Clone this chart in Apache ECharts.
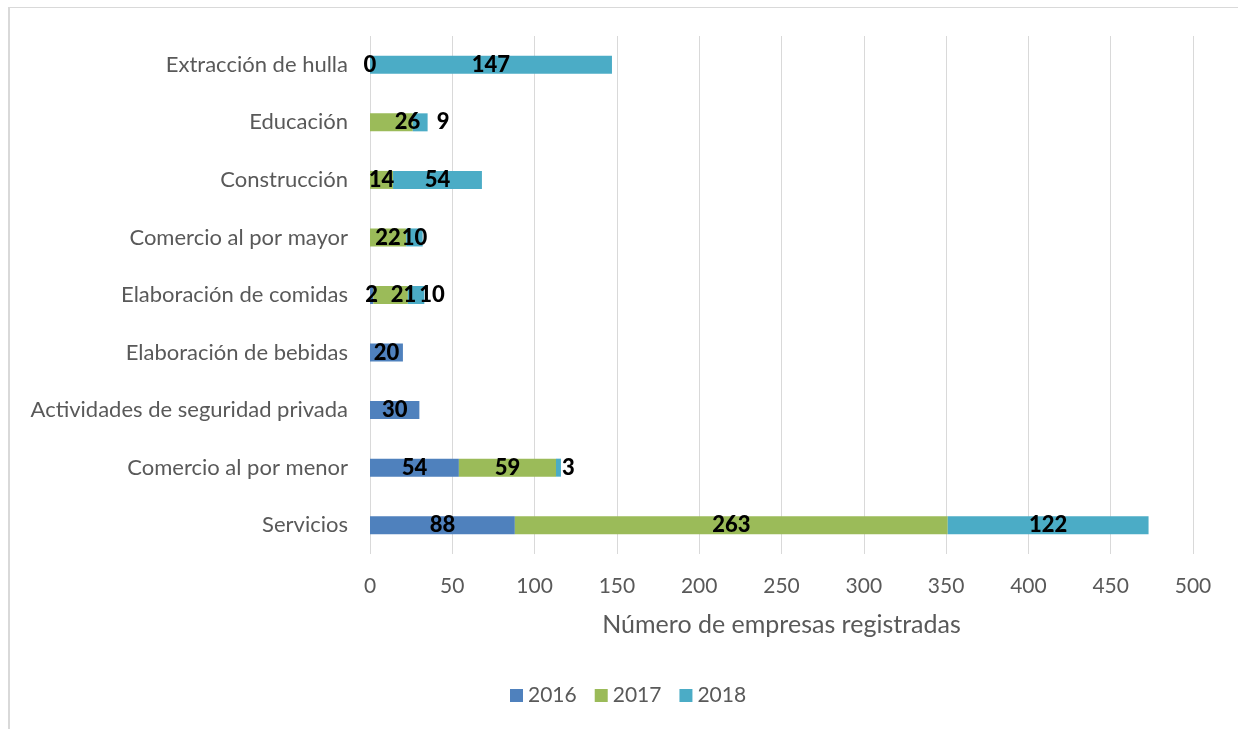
<!DOCTYPE html>
<html>
<head>
<meta charset="utf-8">
<script src="https://cdn.jsdelivr.net/npm/echarts@6/dist/echarts.min.js"></script>
<style>
  html, body { margin: 0; padding: 0; background: #fff; }
  #frame { position: absolute; left: 8px; top: 7px; right: 0; bottom: 0;
           border-left: 2px solid #d9d9d9; border-top: 1px solid #d9d9d9; }
  #chart { position: absolute; left: 0; top: 0; width: 1238px; height: 729px; }
</style>
</head>
<body>
<div id="frame"></div>
<div id="chart"></div>
<script>
// categorias de abajo hacia arriba (eje category de ECharts empieza abajo)
const categories = [
  'Servicios',
  'Comercio al por menor',
  'Actividades de seguridad privada',
  'Elaboración de bebidas',
  'Elaboración de comidas',
  'Comercio al por mayor',
  'Construcción',
  'Educación',
  'Extracción de hulla'
];
const years = ['2016', '2017', '2018'];
const data2016 = [88, 54, 30, 20, 2, null, null, null, 0];
const data2017 = [263, 59, null, null, 21, 22, 14, 26, null];
const data2018 = [122, 3, null, null, 10, 10, 54, 9, 147];
const xTicks = { min: 0, max: 500, interval: 50 };

const colors = ['#4F81BD', '#9BBB59', '#4BACC6'];

// etiquetas movidas a mano en el original (serie, indice, desplazamiento x)
const labelShift = [
  [1, 4, 13], [2, 4, 16],
  [1, 7, 16], [2, 7, 23],
  [2, 1, 10]
];

let chart = echarts.init(document.getElementById('chart'), null, { renderer: 'canvas' });

const allSeries = [data2016, data2017, data2018];

let option = {
  animation: false,
  color: colors,
  textStyle: { fontFamily: 'Lato' },
  grid: {
    left: 370,
    right: 45,
    top: 36,
    bottom: 175,
    containLabel: false
  },
  legend: {
    left: 505,
    top: 680,
    itemWidth: 13,
    itemHeight: 13,
    itemGap: 18,
    icon: 'rect',
    textStyle: { fontSize: 21, color: '#595959' },
    data: years
  },
  xAxis: {
    type: 'value',
    min: xTicks.min,
    max: xTicks.max,
    interval: xTicks.interval,
    name: 'Número de empresas registradas',
    nameLocation: 'middle',
    nameGap: 58,
    nameTextStyle: { fontSize: 25, color: '#595959' },
    axisLine: { show: false },
    axisTick: { show: false },
    axisLabel: { fontSize: 21, color: '#595959', margin: 22 },
    splitLine: { show: true, lineStyle: { color: '#D9D9D9', width: 1 } }
  },
  yAxis: {
    type: 'category',
    data: categories,
    axisLine: { show: false },
    axisTick: { show: false },
    axisLabel: { fontSize: 22, color: '#595959', margin: 22 },
    splitLine: { show: false }
  },
  series: []
};

option.series = allSeries.map((arr, s) => ({
  name: years[s],
  type: 'bar',
  stack: 'total',
  barWidth: 18,
  label: {
    show: true,
    position: 'inside',
    color: '#000',
    fontWeight: 900,
    fontSize: 22,
    fontFamily: 'Lato'
  },
  data: arr.map((v, i) => {
    let shift = labelShift.find(t => t[0] === s && t[1] === i);
    if (shift && v !== null) {
      return { value: v, label: { offset: [shift[2], 0] } };
    }
    return v;
  })
}));

option && chart.setOption(option);
</script>
</body>
</html>
